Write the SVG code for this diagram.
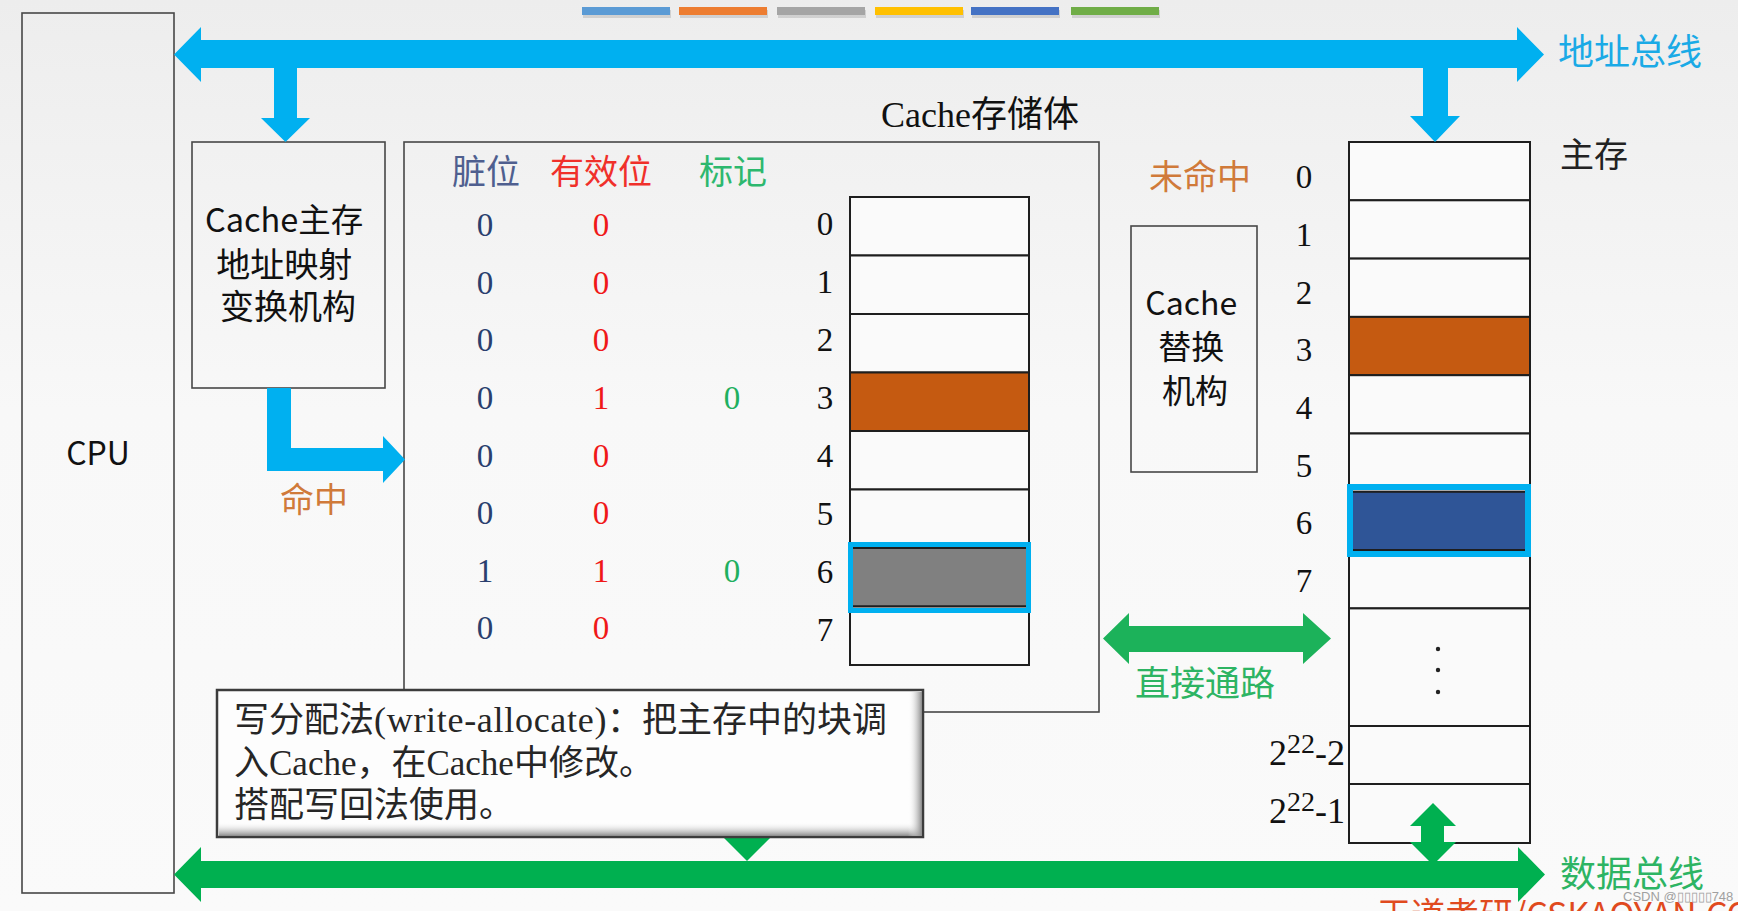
<svg xmlns="http://www.w3.org/2000/svg" width="1738" height="911" viewBox="0 0 1738 911">
<defs>
<linearGradient id="bg" x1="0" y1="0" x2="0" y2="1"><stop offset="0" stop-color="#EDEDED"/><stop offset="0.45" stop-color="#F8F8F8"/><stop offset="1" stop-color="#FAFAFA"/></linearGradient>
<linearGradient id="shadeV" x1="0" y1="0" x2="0" y2="1"><stop offset="0" stop-color="#FFFFFF" stop-opacity="0"/><stop offset="1" stop-color="#8A8A8A"/></linearGradient>
<linearGradient id="shadeH" x1="0" y1="0" x2="1" y2="0"><stop offset="0" stop-color="#FFFFFF" stop-opacity="0"/><stop offset="1" stop-color="#8A8A8A"/></linearGradient>
<style>
.box{fill:none;stroke:#474747;stroke-width:1.6}
.cell{fill:#FAFAFA;stroke:#1E1E1E;stroke-width:2}
.sans{font-family:"Noto Sans CJK SC","Noto Sans",sans-serif}
.serif{font-family:"Liberation Serif","Noto Sans CJK SC",serif}
.num{font-family:"Liberation Serif",serif;font-size:33px;text-anchor:middle}
.dirty{fill:#2A3F6E}
.valid{fill:#F01818}
.tag{fill:#1FB060}
.idx{fill:#111111}
.hit{fill:#D07A3A}
.bus-a{fill:#00B0F0}
.bus-d{fill:#00B050}
</style>
</defs>
<rect x="0" y="0" width="1738" height="911" fill="url(#bg)"/>

<g id="color-bars">
<rect x="583" y="10" width="88" height="8" fill="#000" opacity="0.12"/>
<rect x="680" y="10" width="88" height="8" fill="#000" opacity="0.12"/>
<rect x="778" y="10" width="88" height="8" fill="#000" opacity="0.12"/>
<rect x="876" y="10" width="88" height="8" fill="#000" opacity="0.12"/>
<rect x="972" y="10" width="88" height="8" fill="#000" opacity="0.12"/>
<rect x="1072" y="10" width="88" height="8" fill="#000" opacity="0.12"/>
<rect x="582" y="7" width="88" height="8" fill="#5B9BD5"/>
<rect x="679" y="7" width="88" height="8" fill="#ED7D31"/>
<rect x="777" y="7" width="88" height="8" fill="#A5A5A5"/>
<rect x="875" y="7" width="88" height="8" fill="#FFC000"/>
<rect x="971" y="7" width="88" height="8" fill="#4472C4"/>
<rect x="1071" y="7" width="88" height="8" fill="#70AD47"/>
</g>

<g id="cpu">
<rect class="box" x="22" y="13" width="152" height="880"/>
<text class="sans" x="98" y="465" font-size="32" text-anchor="middle" fill="#111">CPU</text>
</g>

<g id="mapping">
<rect class="box" x="192" y="142" width="193" height="246"/>
<text class="sans" font-size="34" text-anchor="middle" fill="#111">
<tspan x="288" y="232" font-size="32.5">Cache主存</tspan>
<tspan x="288" y="277">地址映射</tspan>
<tspan x="288" y="319">变换机构</tspan>
</text>
</g>

<g id="cache-storage">
<rect class="box" x="404" y="142" width="695" height="570"/>
<text class="serif" x="881" y="127" font-size="36" fill="#111">Cache存储体</text>
<text class="sans" x="486" y="184" font-size="34" text-anchor="middle" fill="#4F5F8F">脏位</text>
<text class="sans" x="601" y="184" font-size="34" text-anchor="middle" fill="#F0302A">有效位</text>
<text class="sans" x="733" y="184" font-size="34" text-anchor="middle" fill="#2DB86E">标记</text>
<rect class="cell" x="850" y="197" width="179" height="58.5"/>
<rect class="cell" x="850" y="255.5" width="179" height="58.5"/>
<rect class="cell" x="850" y="314" width="179" height="58.5"/>
<rect class="cell" x="850" y="372.5" width="179" height="58.5" style="fill:#C55A11"/>
<rect class="cell" x="850" y="431" width="179" height="58.5"/>
<rect class="cell" x="850" y="489.5" width="179" height="58.5"/>
<rect class="cell" x="850" y="548" width="179" height="58.5" style="fill:#808080"/>
<rect class="cell" x="850" y="606.5" width="179" height="58.5"/>
<rect x="850.5" y="544.5" width="178" height="66" fill="none" stroke="#00B0F0" stroke-width="5"/>
<g class="num">
<text class="dirty" x="485" y="236">0</text>
<text class="dirty" x="485" y="294">0</text>
<text class="dirty" x="485" y="351">0</text>
<text class="dirty" x="485" y="409">0</text>
<text class="dirty" x="485" y="467">0</text>
<text class="dirty" x="485" y="524">0</text>
<text class="dirty" x="485" y="582">1</text>
<text class="dirty" x="485" y="639">0</text>
<text class="valid" x="601" y="236">0</text>
<text class="valid" x="601" y="294">0</text>
<text class="valid" x="601" y="351">0</text>
<text class="valid" x="601" y="409">1</text>
<text class="valid" x="601" y="467">0</text>
<text class="valid" x="601" y="524">0</text>
<text class="valid" x="601" y="582">1</text>
<text class="valid" x="601" y="639">0</text>
<text class="tag" x="732" y="409">0</text>
<text class="tag" x="732" y="582">0</text>
<text class="idx" x="825" y="235">0</text>
<text class="idx" x="825" y="293">1</text>
<text class="idx" x="825" y="351">2</text>
<text class="idx" x="825" y="409">3</text>
<text class="idx" x="825" y="467">4</text>
<text class="idx" x="825" y="525">5</text>
<text class="idx" x="825" y="583">6</text>
<text class="idx" x="825" y="641">7</text>
</g>
</g>

<g id="replacement">
<rect class="box" x="1131" y="226" width="126" height="246"/>
<text class="sans" font-size="33" text-anchor="middle" fill="#111">
<tspan x="1195" y="315" font-size="32">Cache</tspan>
<tspan x="1195" y="359">替换</tspan>
<tspan x="1195" y="403">机构</tspan>
</text>
</g>

<g id="main-memory">
<rect class="cell" x="1349" y="142" width="181" height="58.3"/>
<rect class="cell" x="1349" y="200.3" width="181" height="58.3"/>
<rect class="cell" x="1349" y="258.6" width="181" height="58.3"/>
<rect class="cell" x="1349" y="316.9" width="181" height="58.3" style="fill:#C55A11"/>
<rect class="cell" x="1349" y="375.2" width="181" height="58.3"/>
<rect class="cell" x="1349" y="433.5" width="181" height="58.3"/>
<rect class="cell" x="1349" y="491.8" width="181" height="58.3" style="fill:#2F5597"/>
<rect class="cell" x="1349" y="550.1" width="181" height="58.3"/>
<rect class="cell" x="1349" y="608.4" width="181" height="117.6"/>
<rect class="cell" x="1349" y="726" width="181" height="58"/>
<rect class="cell" x="1349" y="784" width="181" height="59"/>
<rect x="1350" y="487" width="178" height="67" fill="none" stroke="#00B0F0" stroke-width="6"/>
<circle cx="1438" cy="649" r="2.2" fill="#222"/>
<circle cx="1438" cy="670" r="2.2" fill="#222"/>
<circle cx="1438" cy="692" r="2.2" fill="#222"/>
<text class="serif" x="1560" y="167" font-size="34" fill="#222">主存</text>
<g class="num">
<text class="idx" x="1304" y="188">0</text>
<text class="idx" x="1304" y="246">1</text>
<text class="idx" x="1304" y="304">2</text>
<text class="idx" x="1304" y="361">3</text>
<text class="idx" x="1304" y="419">4</text>
<text class="idx" x="1304" y="477">5</text>
<text class="idx" x="1304" y="534">6</text>
<text class="idx" x="1304" y="592">7</text>
</g>
<text font-family="Liberation Serif, serif" font-size="36" fill="#111" text-anchor="end" x="1345" y="765">2<tspan font-size="28" dy="-12">22</tspan><tspan dy="12">-2</tspan></text>
<text font-family="Liberation Serif, serif" font-size="36" fill="#111" text-anchor="end" x="1345" y="823">2<tspan font-size="28" dy="-12">22</tspan><tspan dy="12">-1</tspan></text>
</g>

<g id="connectors">
<polygon id="address-bus" class="bus-a" points="174,54.5 201,27 201,40 1517,40 1517,27 1544,54.5 1517,82 1517,68 201,68 201,82"/>
<polygon id="addr-to-mapping" class="bus-a" points="274,66 297,66 297,118 310,118 285.5,142 261,118 274,118"/>
<polygon id="addr-to-memory" class="bus-a" points="1423,66 1448,66 1448,116 1460,116 1435,142 1410,116 1423,116"/>
<polygon id="hit-arrow" class="bus-a" points="267,388 291,388 291,448 383,448 383,436 405,459.5 383,483 383,471 267,471"/>
<polygon id="direct-path" fill="#1CB25A" points="1103,638.5 1129,613 1129,626 1303,626 1303,613 1331,638.5 1303,664 1303,652 1129,652 1129,664"/>
<polygon id="data-bus" class="bus-d" points="174,874.5 201,847 201,861 1518,861 1518,847 1545,874.5 1518,902 1518,888 201,888 201,902"/>
<polygon id="cache-to-data-bus" class="bus-d" points="737,712 757,712 757,837 771,837 747,861 723,837 737,837"/>
<polygon id="memory-data-bus" class="bus-d" points="1433,803 1456,826 1444,826 1444,842 1456,842 1433,865 1410,842 1421,842 1421,826 1410,826"/>
</g>

<g id="note">
<rect x="217" y="690" width="706" height="147" fill="#FDFDFD" stroke="#3C3C3C" stroke-width="2.5"/>
<rect x="219" y="822" width="702" height="14" fill="url(#shadeV)"/>
<rect x="908" y="692" width="14" height="144" fill="url(#shadeH)"/>
<text class="serif" font-size="35" fill="#262626">
<tspan x="234" y="732">写分配法<tspan font-size="36" letter-spacing="0.7">(write-allocate)</tspan>：把主存中的块调</tspan>
<tspan x="234" y="775">入Cache，在Cache中修改。</tspan>
<tspan x="234" y="817">搭配写回法使用。</tspan>
</text>
</g>

<g id="labels">
<text class="sans" x="1558" y="65" font-size="36" fill="#1AAAE6">地址总线</text>
<text class="sans" x="1560" y="887" font-size="36" fill="#2DB463">数据总线</text>
<text class="sans" x="1135" y="696" font-size="35" fill="#2DB463">直接通路</text>
<text class="sans hit" x="1149" y="189" font-size="34">未命中</text>
<text class="sans hit" x="280" y="512" font-size="34">命中</text>
<text class="sans" x="1377" y="927" font-size="34" fill="#E04A1E">王道考研/CSKAOYAN.COM</text>
<text x="1623" y="901" font-family="Liberation Sans, sans-serif" font-size="13" fill="#A0A0A0">CSDN @▯▯▯▯▯748</text>
</g>
</svg>
